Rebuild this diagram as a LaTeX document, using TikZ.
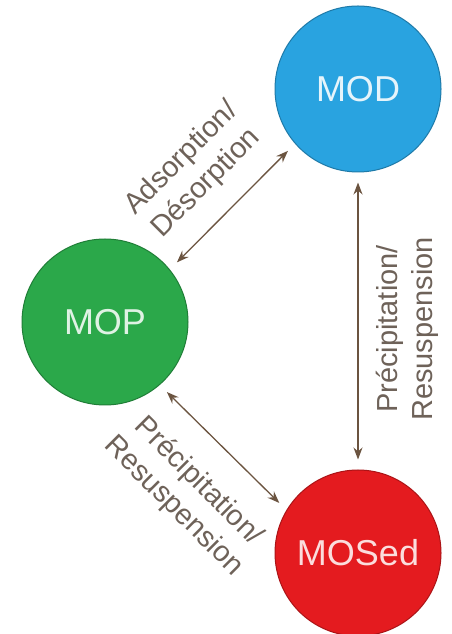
\documentclass[tikz,border=0pt]{standalone}
\usepackage{fontspec}
\setmainfont{Liberation Sans}
\usetikzlibrary{arrows.meta}
\definecolor{modblue}{HTML}{29A3E0}
\definecolor{mopgreen}{HTML}{2BA84A}
\definecolor{mosred}{HTML}{E41B1F}
\definecolor{arrowc}{HTML}{6B5440}
\definecolor{labelc}{HTML}{6E6259}
\begin{document}
\begin{tikzpicture}[x=1pt,y=1pt,
  circ/.style={circle, minimum size=166pt, inner sep=0pt, line width=1pt,
    font=\fontsize{36}{40}\selectfont},
  link/.style={draw=arrowc, line width=1.3pt,
    {Stealth[length=12pt,width=9pt]}-{Stealth[length=12pt,width=9pt]},
    shorten <=10pt, shorten >=10pt},
  lbl/.style={text=labelc, align=center, inner sep=0pt,
    font=\fontsize{29}{35}\selectfont}]
\useasboundingbox (0,0) rectangle (452,634);
\node[circ, fill=modblue, draw=modblue!75!black, text=white!88!modblue] (MOD) at (358,545) {MOD};
\node[circ, fill=mopgreen, draw=mopgreen!75!black, text=white!85!mopgreen] (MOP) at (105,312) {MOP};
\node[circ, fill=mosred, draw=mosred!75!black, text=white!85!mosred] (MOSed) at (358,81) {MOSed};
\draw[link] (MOP.39) -- (MOD.221);
\draw[link] (MOD.-90) -- (MOSed.90);
\draw[link] (MOP.-49) -- (MOSed.149);
\node[lbl, rotate=45] (l1) at (194,463) {Adsorption/\\Désorption};
\node[lbl, rotate=90] (l2) at (407,305) {Précipitation/\\Resuspension};
\node[lbl, rotate=-45] (l3) at (186,140) {Précipitation/\\Resuspension};
\end{tikzpicture}
\end{document}
